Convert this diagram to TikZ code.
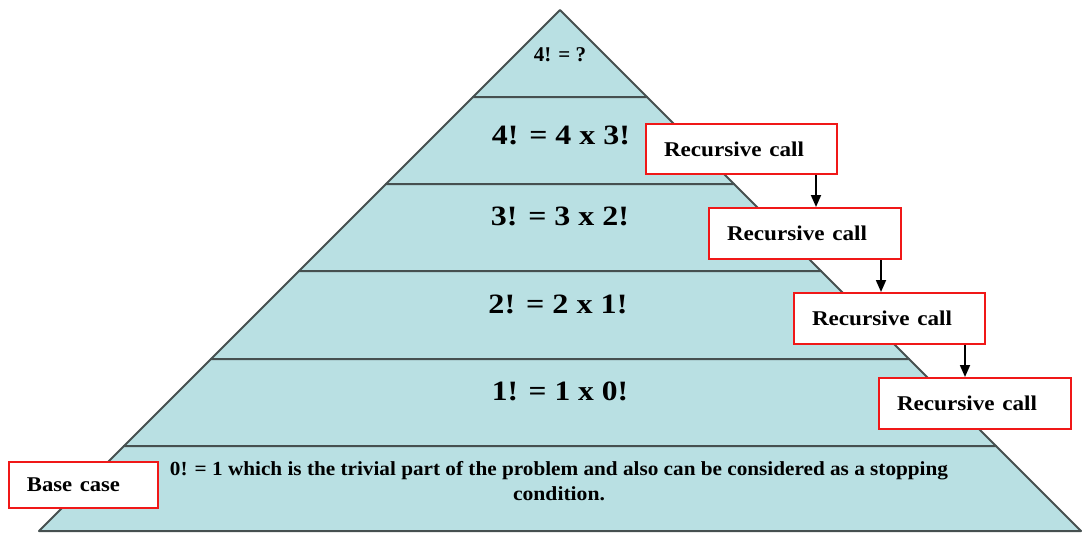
\documentclass[tikz,border=0pt]{standalone}
\usepackage{fontspec}
\setmainfont{Liberation Serif}
\usetikzlibrary{arrows.meta}
\definecolor{layerfill}{HTML}{B9E0E3}
\definecolor{layeredge}{HTML}{465050}
\definecolor{boxred}{HTML}{F01818}
\newcommand{\fitw}[2]{\resizebox{#1}{\height}{#2}}
\newcommand{\pyrlayer}[2]{\draw[layer] ({570-#1},#1) -- ({550+#1},#1) -- ({550+#2},#2) -- ({570-#2},#2) -- cycle;}
\begin{document}
\begin{tikzpicture}[x=1pt,y=-1pt,
  layer/.style={fill=layerfill, draw=layeredge, line width=2pt, line join=round},
  callbox/.style={draw=boxred, fill=white, line width=2pt, inner xsep=18pt, inner ysep=0pt,
    align=left, anchor=north west, font=\fontsize{21}{24}\selectfont\bfseries},
  bigeq/.style={font=\fontsize{28}{32}\selectfont\bfseries},
  smalleq/.style={font=\fontsize{21}{24}\selectfont\bfseries},
  basetext/.style={font=\fontsize{20}{24}\selectfont\bfseries, anchor=base},
  arr/.style={-{Triangle[length=12pt,width=10pt]}, line width=1.8pt}]
\useasboundingbox (0,0) rectangle (1082,536);
% pyramid layers
\pyrlayer{10}{97}
\pyrlayer{97}{184}
\pyrlayer{184}{271}
\pyrlayer{271}{359}
\pyrlayer{359}{446}
\pyrlayer{446}{531}
% layer texts
\node[smalleq] (t0) at (560,55) {4! = ?};
\node[bigeq] (t1) at (561,135) {\fitw{138pt}{4! = 4 x 3!}};
\node[bigeq] (t2) at (560,216) {\fitw{138pt}{3! = 3 x 2!}};
\node[bigeq] (t3) at (558,304) {\fitw{139pt}{2! = 2 x 1!}};
\node[bigeq] (t4) at (560,391) {\fitw{136pt}{1! = 1 x 0!}};
\node[basetext] (b1) at (559,475) {\fitw{778pt}{0! = 1 which is the trivial part of the problem and also can be considered as a stopping}};
\node[basetext] (b2) at (559,500) {\fitw{92pt}{condition.}};
% boxes
\node[callbox, text width=155pt, minimum height=50pt] (r1) at (645,123) {\fitw{140pt}{Recursive call}};
\node[callbox, text width=156pt, minimum height=51pt] (r2) at (708,207) {\fitw{140pt}{Recursive call}};
\node[callbox, text width=155pt, minimum height=51pt] (r3) at (793,292) {\fitw{140pt}{Recursive call}};
\node[callbox, text width=156pt, minimum height=51pt] (r4) at (878,377) {\fitw{140pt}{Recursive call}};
\node[callbox, text width=113pt, minimum height=46pt] (bc) at (8,461) {\fitw{93pt}{Base case}};
% arrows
\coordinate (a1) at ([xshift=-22pt]r1.south east);
\coordinate (a2) at ([xshift=-21pt]r2.south east);
\coordinate (a3) at ([xshift=-21pt]r3.south east);
\draw[arr] (a1) -- (a1 |- r2.north);
\draw[arr] (a2) -- (a2 |- r3.north);
\draw[arr] (a3) -- (a3 |- r4.north);
\end{tikzpicture}
\end{document}
